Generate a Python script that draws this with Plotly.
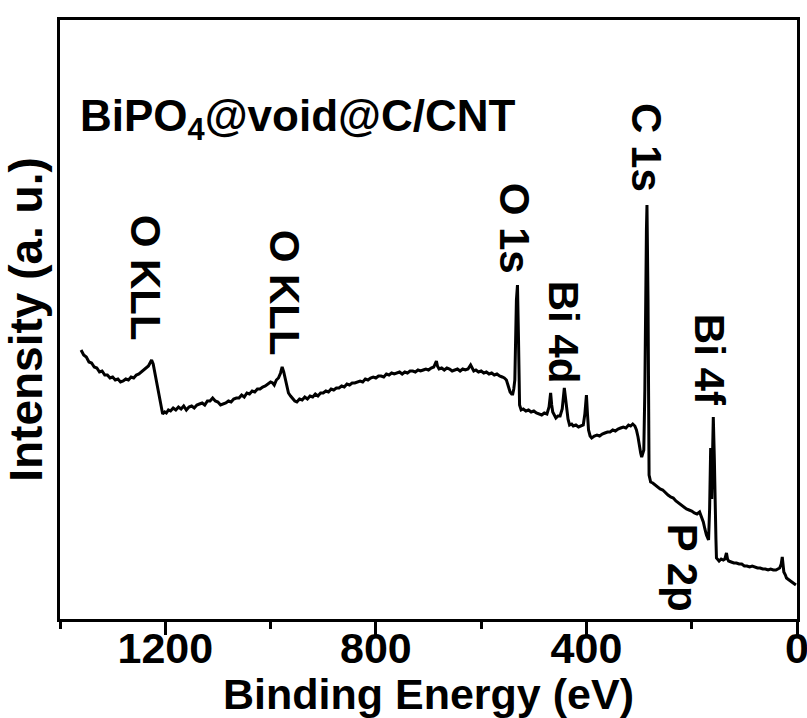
import plotly.graph_objects as go

# Binding energy (eV) and intensity (a.u.)
energy = [1360, 1355, 1350, 1345, 1340, 1335, 1330, 1325, 1320, 1315, 1310, 1305, 1300, 1295, 1290,
          1285, 1280, 1275, 1270, 1265, 1260, 1255, 1250, 1245, 1240, 1236, 1232, 1229, 1226, 1223,
          1220, 1216, 1212, 1208, 1205, 1201, 1198, 1194, 1190, 1185, 1180, 1175, 1170, 1165, 1160,
          1155, 1150, 1145, 1140, 1135, 1130, 1125, 1120, 1115, 1110, 1105, 1100, 1095, 1090, 1085,
          1080, 1075, 1070, 1065, 1060, 1055, 1050, 1045, 1040, 1035, 1030, 1025, 1020, 1015, 1010,
          1005, 1000, 996, 993, 989, 985, 981, 978, 975, 972, 969, 966, 962, 958, 954,
          950, 945, 940, 935, 930, 925, 920, 915, 910, 905, 900, 895, 890, 885, 880,
          875, 870, 865, 860, 855, 850, 845, 840, 835, 830, 825, 820, 815, 810, 805,
          800, 795, 790, 785, 780, 775, 770, 765, 760, 755, 750, 745, 740, 735, 730,
          725, 720, 715, 710, 705, 700, 695, 690, 687, 685, 683, 680, 675, 670, 665,
          660, 655, 650, 645, 640, 635, 630, 625, 620, 617, 614, 610, 605, 600, 595,
          590, 585, 580, 575, 570, 565, 560, 556, 552, 548, 545, 542, 540, 538, 536,
          533, 531, 529, 527, 524, 520, 515, 510, 505, 500, 495, 490, 485, 480, 475,
          471, 468, 466, 464, 458, 454, 450, 446, 442, 440, 438, 435, 432, 428, 425,
          420, 415, 410, 406, 403, 400, 398, 396, 393, 390, 385, 380, 375, 370, 365,
          360, 355, 350, 345, 340, 335, 330, 325, 320, 316, 312, 308, 305, 302, 300,
          297, 295, 293, 291, 289, 288, 286, 285, 284, 283, 281, 278, 274, 270, 265,
          260, 255, 250, 245, 240, 235, 230, 225, 220, 215, 210, 205, 200, 195, 190,
          185, 181, 178, 175, 172, 168, 166, 164, 162, 161, 159, 157, 156, 154, 153,
          150, 148, 144, 140, 137, 134, 132, 130, 125, 120, 115, 110, 105, 100, 95,
          90, 85, 80, 75, 70, 65, 60, 55, 50, 45, 40, 36, 33, 30, 28,
          26, 25, 22, 20, 15, 10, 5, 2]
intensity = [269, 264, 262, 257, 256, 252, 251, 247, 248, 244, 244, 241, 242, 239, 240,
             237, 238, 240, 239, 242, 241, 244, 245, 247, 249, 251, 253, 256, 259, 255,
             247, 236, 224, 213, 205, 207, 206, 209, 208, 211, 209, 212, 210, 213, 209,
             212, 213, 211, 214, 215, 216, 214, 218, 218, 221, 218, 217, 214, 215, 216,
             218, 217, 220, 221, 221, 224, 222, 226, 225, 228, 227, 230, 230, 232, 233,
             235, 237, 236, 234, 239, 241, 246, 252, 247, 240, 232, 226, 223, 220, 218,
             217, 220, 219, 222, 220, 223, 222, 225, 223, 226, 226, 228, 227, 230, 229,
             231, 231, 233, 232, 235, 234, 236, 236, 237, 238, 237, 240, 239, 241, 242,
             241, 243, 243, 242, 245, 244, 246, 245, 246, 247, 245, 247, 246, 248, 248,
             247, 249, 248, 249, 250, 249, 251, 252, 256, 258, 253, 250, 251, 249, 251,
             250, 248, 249, 250, 248, 250, 249, 250, 254, 250, 248, 249, 247, 248, 246,
             247, 245, 246, 244, 245, 243, 242, 241, 239, 232, 227, 225, 225, 230, 239,
             319, 334, 279, 214, 209, 210, 208, 209, 207, 208, 206, 205, 204, 206, 205,
             212, 226, 214, 207, 201, 203, 203, 210, 231, 220, 209, 200, 194, 195, 193,
             194, 192, 193, 194, 205, 224, 205, 189, 183, 181, 183, 184, 183, 185, 186,
             187, 187, 189, 188, 190, 191, 192, 191, 194, 193, 195, 193, 189, 182, 174,
             166, 162, 165, 169, 230, 319, 390, 414, 370, 319, 144, 137, 136, 134, 132,
             130, 129, 126, 124, 122, 121, 118, 116, 114, 112, 110, 109, 108, 106, 105,
             107, 102, 97, 90, 84, 79, 110, 171, 120, 150, 202, 160, 119, 80, 61,
             59, 58, 60, 59, 60, 66, 60, 58, 57, 56, 56, 55, 55, 53, 53,
             52, 53, 52, 51, 51, 50, 50, 49, 50, 49, 49, 50, 51, 55, 62,
             52, 47, 44, 41, 39, 37, 35, 34]

# Peak labels: text, binding energy position, intensity position
peak_labels = ["O KLL", "O KLL", "O 1s", "Bi 4d", "C 1s", "Bi 4f", "P 2p"]
label_energy = [1236, 972, 535, 442, 285, 165, 216]
label_intensity = [341, 326, 391, 287, 471, 259, 51]

sample_name = "BiPO<sub>4</sub>@void@C/CNT"

FONT = "Liberation Sans, Arial, sans-serif"

fig = go.Figure()
fig.add_trace(go.Scatter(x=energy, y=intensity, mode="lines",
                         line=dict(color="black", width=3), showlegend=False))

for txt, ex, iy in zip(peak_labels, label_energy, label_intensity):
    fig.add_annotation(x=ex, y=iy, xref="x", yref="y", text=txt, showarrow=False,
                       textangle=90, xanchor="center", yanchor="middle",
                       font=dict(family=FONT, size=42, color="black", weight="bold"))

fig.add_annotation(x=0.025, y=0.835, xref="paper", yref="paper", text=sample_name,
                   showarrow=False, xanchor="left", yanchor="middle",
                   font=dict(family=FONT, size=44, color="black", weight="bold"))

fig.update_layout(
    width=807, height=718,
    margin=dict(l=60, r=10, t=20, b=99),
    paper_bgcolor="white", plot_bgcolor="white",
    font=dict(family=FONT, color="black", weight="bold"),
    xaxis=dict(range=[1400, 0], tickmode="linear", tick0=0, dtick=400,
               ticks="outside", ticklen=13, tickwidth=3, tickcolor="black",
               minor=dict(dtick=200, tick0=0, ticks="outside", ticklen=7, tickwidth=3,
                          tickcolor="black", showgrid=False),
               ticklabelstandoff=-24, ticklabeloverflow="allow",
               showline=True, linewidth=3, linecolor="black", mirror=True,
               showgrid=False, zeroline=False, automargin=False,
               tickfont=dict(family=FONT, size=43, color="black", weight="bold"),
               title=dict(text="Binding Energy (eV)", standoff=0,
                          font=dict(family=FONT, size=43, color="black", weight="bold"))),
    yaxis=dict(range=[0, 599], showticklabels=False, ticks="",
               showline=True, linewidth=3, linecolor="black", mirror=True,
               showgrid=False, zeroline=False, automargin=False,
               title=dict(text="Intensity (a. u.)", standoff=4,
                          font=dict(family=FONT, size=46, color="black", weight="bold"))),
)

fig.write_html("out.html")
